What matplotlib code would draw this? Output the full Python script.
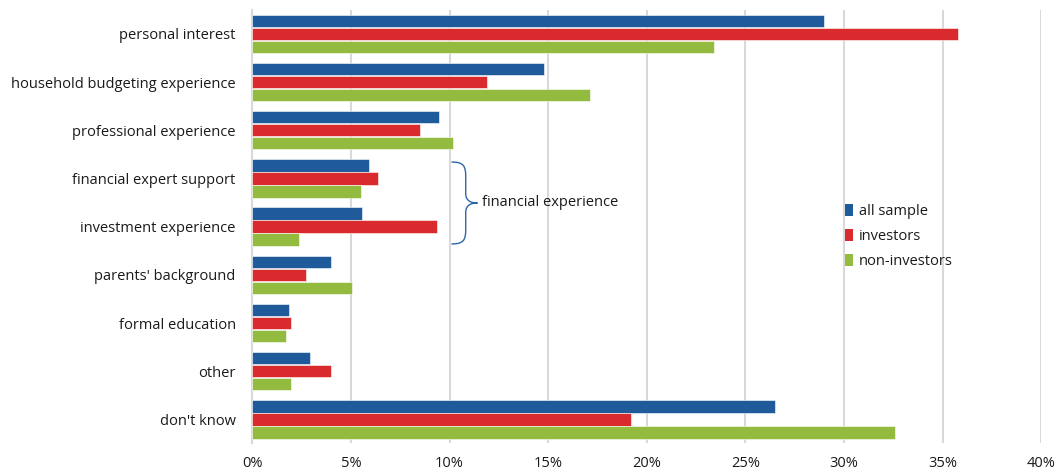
import numpy as np
import matplotlib
matplotlib.use('Agg')
import matplotlib.pyplot as plt
from matplotlib.path import Path
from matplotlib.patches import PathPatch, Patch
from matplotlib.ticker import FuncFormatter

plt.rcParams['font.family'] = ['Open Sans', 'DejaVu Sans']

categories = ["personal interest", "household budgeting experience", "professional experience",
              "financial expert support", "investment experience", "parents' background",
              "formal education", "other", "don't know"]
all_sample = [29.0, 14.8, 9.45, 5.9, 5.55, 4.0, 1.85, 2.9, 26.5]
investors = [35.8, 11.9, 8.5, 6.35, 9.35, 2.7, 1.95, 4.0, 19.2]
non_investors = [23.4, 17.1, 10.2, 5.5, 2.35, 5.05, 1.7, 1.95, 32.6]
series_names = ["all sample", "investors", "non-investors"]
colors = ['#1f5a9a', '#d92b2d', '#93bb3f']

fig = plt.figure(figsize=(10.61, 4.72), dpi=100)
ax = fig.add_axes([0.2378, 0.0604, 0.7436, 0.919])

y = np.arange(len(categories))
h = 0.255
for i, (vals, c) in enumerate(zip([all_sample, investors, non_investors], colors)):
    ax.barh(y + (i - 1) * 0.27, vals, height=h, color=c, edgecolor='white', linewidth=0.4, zorder=3)

ax.set_ylim(len(categories) - 0.5, -0.5)
ax.set_xlim(0, 40)
ax.set_xticks(np.arange(0, 41, 5))
ax.xaxis.set_major_formatter(FuncFormatter(lambda v, p: f"{v:.0f}%"))
ax.set_yticks(y)
ax.set_yticklabels(categories)
ax.tick_params(axis='both', length=0, labelsize=10.5, colors='#1a1a1a')
ax.tick_params(axis='y', pad=12)
ax.tick_params(axis='x', pad=9)
ax.grid(axis='x', color='#d9d9d9', linewidth=1.5, zorder=0)
for s in ['top', 'right', 'bottom']:
    ax.spines[s].set_visible(False)
ax.spines['left'].set_color('#d9d9d9')
ax.spines['left'].set_linewidth(1.5)

# curly brace grouping the two financial categories
def brace(x0, ytop, ybot, w, tip):
    ym = (ytop + ybot) / 2
    x1 = x0 + w
    verts = [(x0, ytop), (x0 + w * 0.85, ytop), (x1, ytop + 0.08), (x1, ytop + 0.3),
             (x1, ym - 0.2),
             (x1, ym - 0.05), (x1 + tip * 0.4, ym), (x1 + tip, ym),
             (x1 + tip * 0.4, ym), (x1, ym + 0.05), (x1, ym + 0.2),
             (x1, ybot - 0.3),
             (x1, ybot - 0.08), (x0 + w * 0.85, ybot), (x0, ybot)]
    codes = [Path.MOVETO, Path.CURVE4, Path.CURVE4, Path.CURVE4,
             Path.LINETO,
             Path.CURVE4, Path.CURVE4, Path.CURVE4,
             Path.CURVE4, Path.CURVE4, Path.CURVE4,
             Path.LINETO,
             Path.CURVE4, Path.CURVE4, Path.CURVE4]
    return PathPatch(Path(verts, codes), facecolor='none', edgecolor='#2e64a8', lw=1.0, zorder=4)

ax.add_patch(brace(10.1, 2.66, 4.36, 0.72, 0.6))
ax.text(11.65, 3.5, "financial experience", va='center', ha='left', fontsize=10.5, color='#1a1a1a', zorder=5)

handles = [Patch(facecolor=c, edgecolor='none') for c in colors]
leg = ax.legend(handles, series_names, loc='center left', bbox_to_anchor=(0.7415, 0.478),
                frameon=False, fontsize=10.5, handlelength=0.6, handleheight=0.9,
                handletextpad=0.4, labelspacing=0.68, borderpad=0)
for t in leg.get_texts():
    t.set_color('#1a1a1a')

fig.savefig('out.png', dpi=100, facecolor='white')
